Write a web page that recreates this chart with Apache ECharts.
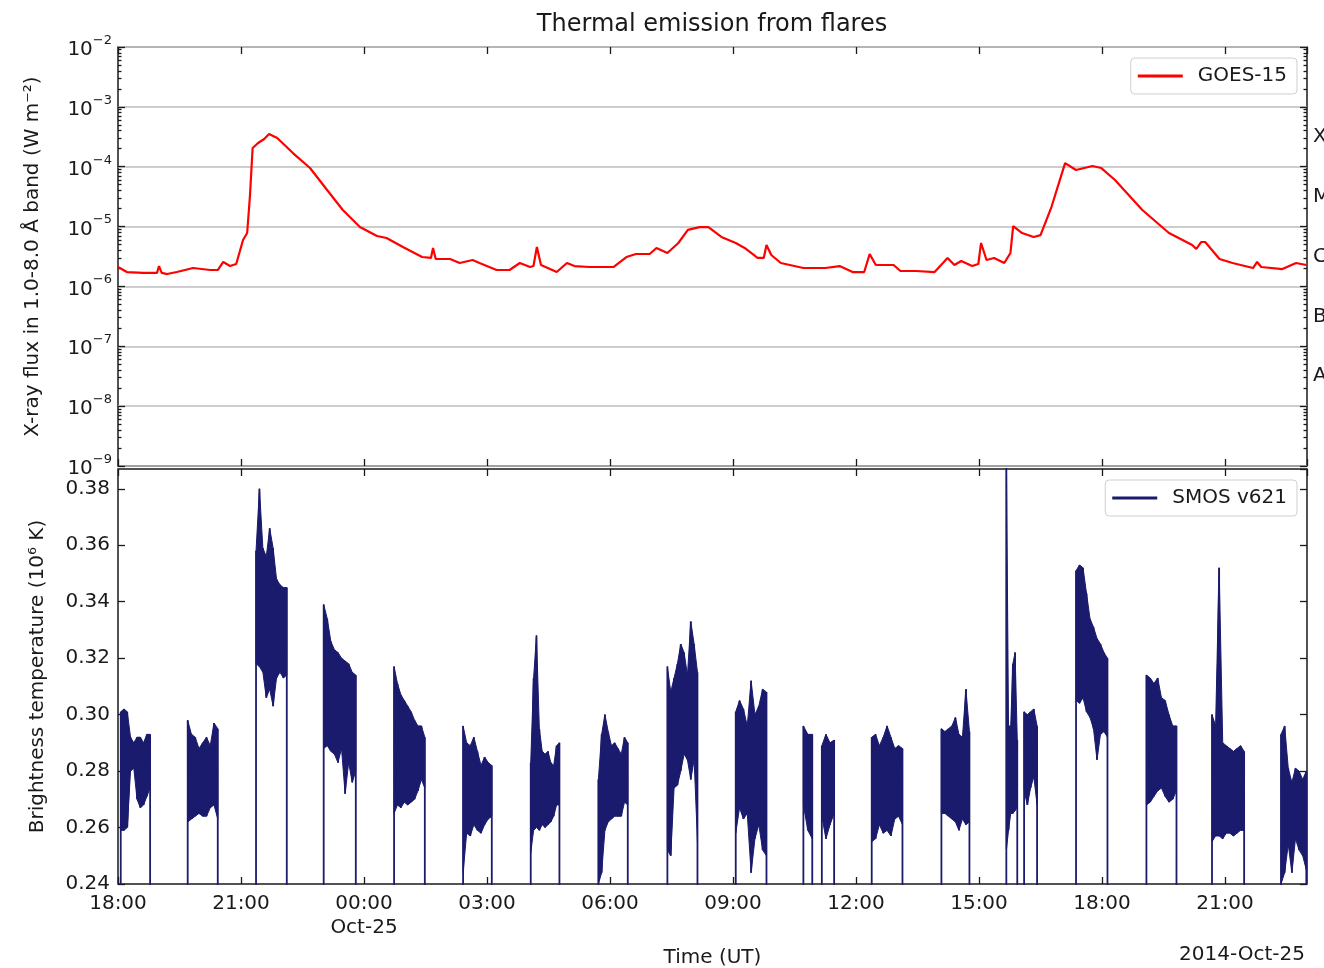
<!DOCTYPE html>
<html>
<head>
<meta charset="utf-8">
<title>Thermal emission from flares</title>
<script src="https://cdn.jsdelivr.net/npm/echarts@6/dist/echarts.min.js"></script>
<style>
  html, body { margin: 0; padding: 0; background: #fff; }
  #chart { width: 1324px; height: 968px; }
</style>
</head>
<body>
<div id="chart"></div>
<script>
// GOES-15 soft X-ray flux (1.0-8.0 Å), times as "day HH:MM" UT, October 2014
const goesTime = [
  '24 18:00','24 18:13','24 18:37','24 18:57','24 19:00','24 19:04','24 19:12','24 19:26','24 19:50','24 20:15',
  '24 20:26','24 20:34','24 20:44','24 20:53','24 21:03','24 21:09','24 21:13','24 21:17','24 21:25','24 21:34',
  '24 21:41','24 21:53','24 22:16','24 22:41','24 23:06','24 23:29','24 23:54','25 00:19','25 00:33','25 00:57',
  '25 01:25','25 01:38','25 01:41','25 01:45','25 02:06','25 02:20','25 02:39','25 02:49','25 03:14','25 03:33',
  '25 03:48','25 04:03','25 04:08','25 04:13','25 04:19','25 04:42','25 04:57','25 05:08','25 05:30','25 05:59',
  '25 06:05','25 06:24','25 06:38','25 06:58','25 07:08','25 07:24','25 07:40','25 07:54','25 08:11','25 08:24',
  '25 08:43','25 09:04','25 09:17','25 09:36','25 09:45','25 09:49','25 09:56','25 10:10','25 10:43','25 11:15',
  '25 11:36','25 11:55','25 12:12','25 12:20','25 12:29','25 12:55','25 13:05','25 13:28','25 13:55','25 14:14',
  '25 14:24','25 14:34','25 14:50','25 14:59','25 15:03','25 15:11','25 15:22','25 15:37','25 15:46','25 15:50',
  '25 16:03','25 16:20','25 16:30','25 16:46','25 17:06','25 17:22','25 17:46','25 17:59','25 18:19','25 18:59',
  '25 19:38','25 20:12','25 20:18','25 20:25','25 20:31','25 20:52','25 21:11','25 21:41','25 21:47','25 21:53',
  '25 22:24','25 22:44','25 22:59'
];
const goesFlux = [
  2.11e-6,1.74e-6,1.68e-6,1.68e-6,2.19e-6,1.68e-6,1.61e-6,1.74e-6,2.03e-6,1.88e-6,
  1.88e-6,2.56e-6,2.19e-6,2.37e-6,5.97e-6,7.8e-6,3.12e-5,2.05e-4,2.49e-4,2.9e-4,
  3.52e-4,3.02e-4,1.69e-4,9.5e-5,4.08e-5,1.89e-5,9.8e-6,6.97e-6,6.45e-6,4.56e-6,
  3.1e-6,2.99e-6,4.39e-6,2.87e-6,2.87e-6,2.46e-6,2.76e-6,2.46e-6,1.88e-6,1.88e-6,
  2.46e-6,2.11e-6,2.19e-6,4.56e-6,2.28e-6,1.74e-6,2.46e-6,2.19e-6,2.11e-6,2.11e-6,
  2.11e-6,3.1e-6,3.48e-6,3.48e-6,4.39e-6,3.62e-6,5.32e-6,8.8e-6,9.8e-6,9.8e-6,
  6.7e-6,5.32e-6,4.39e-6,2.99e-6,2.99e-6,4.92e-6,3.35e-6,2.46e-6,2.03e-6,2.03e-6,
  2.19e-6,1.74e-6,1.74e-6,3.48e-6,2.28e-6,2.28e-6,1.81e-6,1.81e-6,1.74e-6,2.99e-6,
  2.28e-6,2.66e-6,2.19e-6,2.37e-6,5.32e-6,2.76e-6,2.99e-6,2.46e-6,3.62e-6,1.02e-5,
  7.8e-6,6.7e-6,7.2e-6,2.12e-5,1.15e-4,8.8e-5,1.03e-4,9.5e-5,6.0e-5,1.89e-5,
  7.8e-6,4.92e-6,4.22e-6,5.52e-6,5.52e-6,2.87e-6,2.46e-6,2.03e-6,2.56e-6,2.11e-6,
  1.95e-6,2.46e-6,2.28e-6
];

// SMOS v621 brightness temperature (10^6 K): one entry per observing window,
// with the upper and lower envelope of the rapidly varying samples inside it
const smosStart = [
  '24 18:04','24 19:42','24 21:22','24 23:01','25 00:44','25 02:25','25 04:04','25 05:43','25 07:24','25 09:04',
  '25 10:43','25 11:10','25 12:23','25 14:05','25 15:40','25 16:06','25 17:22','25 19:05','25 20:41','25 22:22'
];
const smosEnd = [
  '24 18:47','24 20:26','24 22:07','24 23:48','25 01:29','25 03:07','25 04:46','25 06:26','25 08:08','25 09:49',
  '25 10:56','25 11:28','25 13:08','25 14:46','25 15:56','25 16:25','25 18:08','25 19:49','25 21:28','25 22:59'
];
const smosHigh = [
  [0.301,0.302,0.301,0.292,0.290,0.292,0.292,0.290,0.293,0.293],
  [0.298,0.293,0.292,0.288,0.290,0.292,0.289,0.297,0.295],
  [0.358,0.380,0.359,0.356,0.366,0.359,0.348,0.346,0.345,0.345],
  [0.339,0.334,0.326,0.323,0.322,0.320,0.319,0.318,0.315,0.314],
  [0.317,0.311,0.307,0.305,0.303,0.301,0.298,0.296,0.296,0.292],
  [0.296,0.290,0.289,0.292,0.287,0.282,0.285,0.283,0.282],
  [0.283,0.313,0.328,0.295,0.287,0.286,0.287,0.283,0.282,0.289,0.290],
  [0.277,0.293,0.300,0.294,0.289,0.290,0.288,0.286,0.292,0.290],
  [0.317,0.308,0.313,0.318,0.325,0.322,0.314,0.333,0.325,0.315],
  [0.301,0.305,0.302,0.296,0.312,0.300,0.303,0.309,0.308],
  [0.296,0.293,0.293],
  [0.289,0.293,0.290,0.291],
  [0.292,0.293,0.289,0.292,0.296,0.292,0.288,0.289,0.288],
  [0.295,0.294,0.295,0.296,0.299,0.293,0.292,0.309,0.294],
  [0.395,0.296,0.296,0.318,0.322,0.291],
  [0.301,0.300,0.301,0.302,0.296],
  [0.351,0.353,0.352,0.343,0.334,0.331,0.327,0.325,0.322,0.320],
  [0.314,0.313,0.311,0.313,0.306,0.305,0.300,0.296,0.296],
  [0.300,0.296,0.352,0.290,0.289,0.288,0.287,0.288,0.289,0.287],
  [0.293,0.296,0.281,0.276,0.281,0.280,0.277,0.280]
];
const smosLow = [
  [0.259,0.259,0.260,0.280,0.281,0.270,0.267,0.268,0.271,0.274],
  [0.262,0.263,0.264,0.265,0.264,0.264,0.267,0.268,0.263],
  [0.318,0.317,0.315,0.306,0.309,0.303,0.313,0.315,0.313,0.314],
  [0.288,0.289,0.287,0.286,0.283,0.288,0.272,0.283,0.276,0.280],
  [0.265,0.268,0.267,0.269,0.268,0.269,0.270,0.273,0.277,0.274],
  [0.244,0.258,0.257,0.261,0.259,0.258,0.261,0.263,0.264],
  [0.251,0.259,0.260,0.259,0.261,0.260,0.261,0.262,0.264,0.268,0.268],
  [0.240,0.244,0.259,0.262,0.263,0.264,0.264,0.264,0.269,0.268],
  [0.252,0.250,0.274,0.275,0.280,0.286,0.284,0.277,0.284,0.255],
  [0.258,0.267,0.263,0.265,0.244,0.256,0.261,0.252,0.250],
  [0.268,0.259,0.256],
  [0.264,0.256,0.261,0.265],
  [0.255,0.256,0.261,0.258,0.259,0.257,0.263,0.264,0.261],
  [0.265,0.265,0.264,0.263,0.262,0.259,0.263,0.261,0.262],
  [0.252,0.259,0.265,0.265,0.266,0.267],
  [0.273,0.268,0.274,0.278,0.268],
  [0.305,0.304,0.306,0.301,0.299,0.295,0.284,0.293,0.294,0.292],
  [0.268,0.269,0.271,0.273,0.274,0.271,0.269,0.270,0.273],
  [0.255,0.257,0.257,0.256,0.258,0.258,0.257,0.258,0.259,0.259],
  [0.240,0.244,0.254,0.244,0.256,0.252,0.250,0.245]
];
// level the instrument reports at the edges of each window (off the plotted range)
const smosDropout = 0.2;

// GOES flux classes, one per decade from 1e-8 upwards
const fluxClasses = ['A', 'B', 'C', 'M', 'X'];
const monthNames = ['Jan','Feb','Mar','Apr','May','Jun','Jul','Aug','Sep','Oct','Nov','Dec'];

function utc(s) {
  const [d, hm] = s.split(' ');
  const [h, m] = hm.split(':').map(Number);
  return Date.UTC(2014, 9, Number(d), h, m);
}
const pad = n => String(n).padStart(2, '0');
function timeLabel(v) {
  const d = new Date(v);
  const s = pad(d.getUTCHours()) + ':' + pad(d.getUTCMinutes());
  if (d.getUTCHours() === 0 && d.getUTCMinutes() === 0) {
    return s + '\n' + monthNames[d.getUTCMonth()] + '-' + pad(d.getUTCDate());
  }
  return s;
}

const goesData = goesTime.map((t, i) => [utc(t), goesFlux[i]]);

// sample times of each window, evenly spread between its start and end
const smosTimes = smosStart.map((s, k) => {
  const t0 = utc(s), t1 = utc(smosEnd[k]), n = smosHigh[k].length;
  return smosHigh[k].map((_, i) => t0 + (t1 - t0) * i / (n - 1));
});

// trace: rise from the dropout level, sweep between envelope values, fall back
const smosData = [];
smosTimes.forEach((ts, k) => {
  smosData.push([ts[0], smosDropout]);
  ts.forEach((t, i) => smosData.push([t, smosHigh[k][i]], [t, smosLow[k][i]]));
  smosData.push([ts[ts.length - 1], smosDropout]);
});
// one item per window for the filled envelope band
const smosWindows = smosTimes.map((ts, k) => [ts[0], k]);

// minor tick positions (log10 units) for the flux panel
const minorLog = [];
for (let e = -9; e < -2; e++) {
  for (let k = 2; k <= 9; k++) minorLog.push(e + Math.log10(k));
}

const T0 = Date.UTC(2014, 9, 24, 18);
const T1 = Date.UTC(2014, 9, 25, 23);
const STEP = 3 * 3600 * 1000;
const FONT = 'DejaVu Sans';
const INK = '#1a1a1a';
const SMOS_COLOR = '#1b1b6e';
const tickLine = { color: INK, width: 1.3 };

const xBase = {
  type: 'value', min: T0, max: T1, interval: STEP,
  axisLine: { show: false },
  splitLine: { show: false },
  axisTick: { inside: true, length: 7, lineStyle: tickLine },
  axisLabel: { show: false }
};
const yPlain = {
  axisLine: { show: false },
  splitLine: { show: false },
  axisLabel: { show: false }
};

const option = {
  animation: false,
  backgroundColor: '#fff',
  grid: [
    { left: 118, right: 17, top: 47, height: 419, show: true, borderColor: INK, borderWidth: 1.5,
      containLabel: false, outerBoundsMode: 'none' },
    { left: 118, right: 17, top: 469, height: 415, show: true, borderColor: INK, borderWidth: 1.5,
      containLabel: false, outerBoundsMode: 'none' }
  ],
  graphic: [
    { type: 'text', x: 712, y: 25, style: { text: 'Thermal emission from flares', fontFamily: FONT,
      fontSize: 24, fill: INK, textAlign: 'center', textVerticalAlign: 'middle' } },
    { type: 'text', x: 1305, y: 955, style: { text: '2014-Oct-25', fontFamily: FONT,
      fontSize: 20, fill: INK, textAlign: 'right', textVerticalAlign: 'middle' } }
  ],
  legend: [
    { data: ['GOES-15'], right: 27, top: 58, orient: 'vertical', icon: 'rect',
      itemWidth: 45, itemHeight: 3, padding: [8, 10, 8, 7],
      backgroundColor: '#fff', borderColor: '#cfcfcf', borderWidth: 1, borderRadius: 4,
      textStyle: { fontFamily: FONT, fontSize: 20, color: INK, padding: [0, 0, 0, 10] } },
    { data: ['SMOS v621'], right: 27, top: 480, orient: 'vertical', icon: 'rect',
      itemWidth: 45, itemHeight: 3, padding: [8, 10, 8, 7],
      backgroundColor: '#fff', borderColor: '#cfcfcf', borderWidth: 1, borderRadius: 4,
      textStyle: { fontFamily: FONT, fontSize: 20, color: INK, padding: [0, 0, 0, 10] } }
  ],
  xAxis: [
    Object.assign({}, xBase, { gridIndex: 0, position: 'bottom' }),
    Object.assign({}, xBase, { gridIndex: 0, position: 'top' }),
    Object.assign({}, xBase, {
      gridIndex: 1, position: 'bottom',
      axisLabel: { show: true, formatter: timeLabel, fontFamily: FONT, fontSize: 20, color: INK,
        margin: 8, lineHeight: 24, showMaxLabel: false },
      name: 'Time (UT)', nameLocation: 'middle', nameGap: 64,
      nameTextStyle: { fontFamily: FONT, fontSize: 20, color: INK }
    }),
    Object.assign({}, xBase, { gridIndex: 1, position: 'top' })
  ],
  yAxis: [
    {
      type: 'log', logBase: 10, min: 1e-9, max: 1e-2, splitNumber: 7, gridIndex: 0, position: 'left',
      axisLine: { show: false },
      axisTick: { inside: true, length: 7, lineStyle: tickLine },
      splitLine: { show: true, lineStyle: { color: '#bdbdbd', width: 1.6 } },
      axisLabel: {
        margin: 6,
        formatter: v => '{b|10}{s|\u2212' + Math.round(-Math.log10(v)) + '}',
        rich: {
          b: { fontFamily: FONT, fontSize: 20, color: INK, lineHeight: 26, verticalAlign: 'bottom' },
          s: { fontFamily: FONT, fontSize: 13, color: INK, lineHeight: 14, verticalAlign: 'top' }
        }
      },
      name: 'X-ray flux in 1.0-8.0 Å band (W m\u207B\u00B2)', nameLocation: 'middle', nameGap: 75,
      nameTextStyle: { fontFamily: FONT, fontSize: 20, color: INK }
    },
    Object.assign({}, yPlain, { type: 'value', min: -9, max: -2, gridIndex: 0, position: 'left',
      axisTick: { inside: true, length: 3.5, lineStyle: tickLine, customValues: minorLog } }),
    Object.assign({}, yPlain, { type: 'value', min: -9, max: -2, interval: 1, gridIndex: 0, position: 'right',
      axisTick: { inside: true, length: 7, lineStyle: tickLine },
      axisLabel: { show: true, margin: 6, customValues: [-7.5, -6.5, -5.5, -4.5, -3.5],
        formatter: v => fluxClasses[Math.round(v + 7.5)],
        fontFamily: FONT, fontSize: 20, color: INK } }),
    Object.assign({}, yPlain, { type: 'value', min: -9, max: -2, gridIndex: 0, position: 'right',
      axisTick: { inside: true, length: 3.5, lineStyle: tickLine, customValues: minorLog } }),
    {
      type: 'value', min: 0.24, max: 0.387, interval: 0.02, gridIndex: 1, position: 'left',
      axisLine: { show: false }, splitLine: { show: false },
      axisTick: { inside: true, length: 7, lineStyle: tickLine },
      axisLabel: { margin: 8, formatter: v => v.toFixed(2), showMaxLabel: false,
        fontFamily: FONT, fontSize: 20, color: INK },
      name: 'Brightness temperature (10\u2076 K)', nameLocation: 'middle', nameGap: 70,
      nameTextStyle: { fontFamily: FONT, fontSize: 20, color: INK }
    },
    Object.assign({}, yPlain, { type: 'value', min: 0.24, max: 0.387, interval: 0.02, gridIndex: 1, position: 'right',
      axisTick: { inside: true, length: 7, lineStyle: tickLine } })
  ],
  series: [
    {
      name: 'GOES-15', type: 'line', xAxisIndex: 0, yAxisIndex: 0, data: goesData,
      symbol: 'none', clip: true,
      lineStyle: { color: '#ff0000', width: 2.2 }, itemStyle: { color: '#ff0000' }
    },
    {
      // filled band between the upper and lower envelope of each window
      type: 'custom', xAxisIndex: 2, yAxisIndex: 4, data: smosWindows, clip: true, silent: true,
      renderItem: (params, api) => {
        const k = params.dataIndex;
        const ts = smosTimes[k];
        const upper = ts.map((t, i) => api.coord([t, smosHigh[k][i]]));
        const lower = ts.map((t, i) => api.coord([t, smosLow[k][i]])).reverse();
        return { type: 'polygon', shape: { points: upper.concat(lower) },
          style: { fill: SMOS_COLOR, stroke: SMOS_COLOR, lineWidth: 1 } };
      }
    },
    {
      name: 'SMOS v621', type: 'line', xAxisIndex: 2, yAxisIndex: 4, data: smosData,
      symbol: 'none', clip: true,
      lineStyle: { color: SMOS_COLOR, width: 1.8 }, itemStyle: { color: SMOS_COLOR }
    }
  ]
};

const chart = echarts.init(document.getElementById('chart'));
chart.setOption(option);
</script>
</body>
</html>
